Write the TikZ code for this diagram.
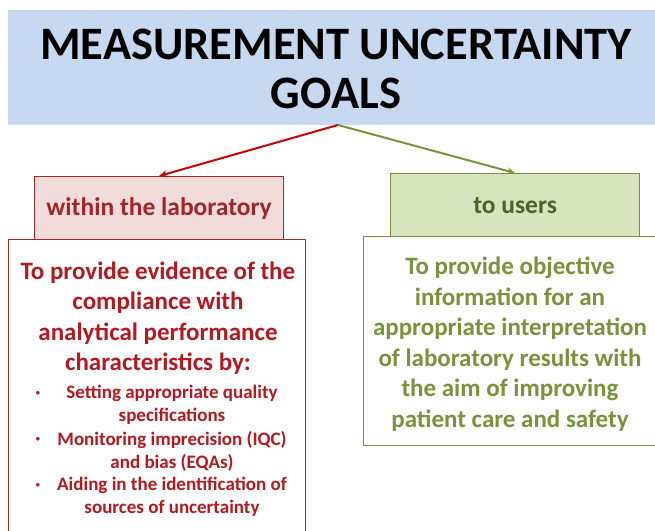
\documentclass[tikz,border=0pt]{standalone}
\usepackage{fontspec}
\setmainfont{Carlito}
\usetikzlibrary{arrows.meta}

\definecolor{titleblue}{HTML}{C6D9F1}
\definecolor{labred}{HTML}{A2252A}
\definecolor{labtext}{HTML}{B5191F}
\definecolor{labfill}{HTML}{F2DCDB}
\definecolor{usegreen}{HTML}{77933C}
\definecolor{usedark}{HTML}{4F6228}
\definecolor{usefill}{HTML}{D7E4BD}

\tikzset{
  tagbox/.style={draw, line width=1.2pt, minimum width=249pt, minimum height=63pt, inner sep=0pt},
  goalbox/.style={draw, line width=1.2pt, fill=white, inner sep=0pt},
  bigline/.style={font=\bfseries\fontsize{25}{30.5}\selectfont, align=center},
  smallline/.style={font=\bfseries\fontsize{19}{23}\selectfont, align=center},
  goalarrow/.style={line width=2pt, -{Stealth[length=8pt,width=7pt]}}
}

\begin{document}
\begin{tikzpicture}[x=1pt,y=-1pt]

\useasboundingbox (0,0) rectangle (655,530);

% title bar
\fill[titleblue] (8,10) rectangle (670,125);
\node (title) at (336,69) [font=\bfseries\fontsize{46.5}{49}\selectfont, align=center] {MEASUREMENT UNCERTAINTY\\GOALS};
\coordinate (split) at (338,125);

% left branch
\node (lab) [tagbox, draw=labred, fill=labfill, anchor=north west] at (34,176) {};
\node (labtag) at (lab.center) [font=\bfseries\fontsize{25.5}{28}\selectfont, text=labred] {within the laboratory};
\node (labgoal) [goalbox, draw=labred, anchor=north west, minimum width=297pt, minimum height=310pt] at (8,239) {};
\node (labhead) at (158,318) [bigline, text=labtext] {To provide evidence of the\\compliance with\\analytical performance\\characteristics by:};
\node (item1) at (172,405) [smallline, text=labtext] {Setting appropriate quality\\specifications};
\node (item2) at (172,451) [smallline, text=labtext] {Monitoring imprecision (IQC)\\and bias (EQAs)};
\node (item3) at (172,497) [smallline, text=labtext] {Aiding in the identification of\\sources of uncertainty};
\foreach \y in {393,439,485}
  \node[text=labtext, font=\fontsize{9}{10}\selectfont] at (38,\y) {$\bullet$};

% right branch
\node (users) [tagbox, draw=usegreen, fill=usefill, anchor=north west] at (390,173) {};
\node (usetag) at (users.center) [font=\bfseries\fontsize{25.5}{28}\selectfont, text=usedark] {to users};
\node (usegoal) [goalbox, draw=usegreen, anchor=north west, minimum width=310pt, minimum height=209pt] at (363,236) {};
\node (usetext) at (510,344) [bigline, text=usegreen] {To provide objective\\information for an\\appropriate interpretation\\of laboratory results with\\the aim of improving\\patient care and safety};

% arrows
\draw[goalarrow, draw=red!80!black, fill=red!80!black] (split) -- (lab.north);
\draw[goalarrow, draw=usegreen, fill=usegreen] (split) -- (users.north);

\end{tikzpicture}
\end{document}
